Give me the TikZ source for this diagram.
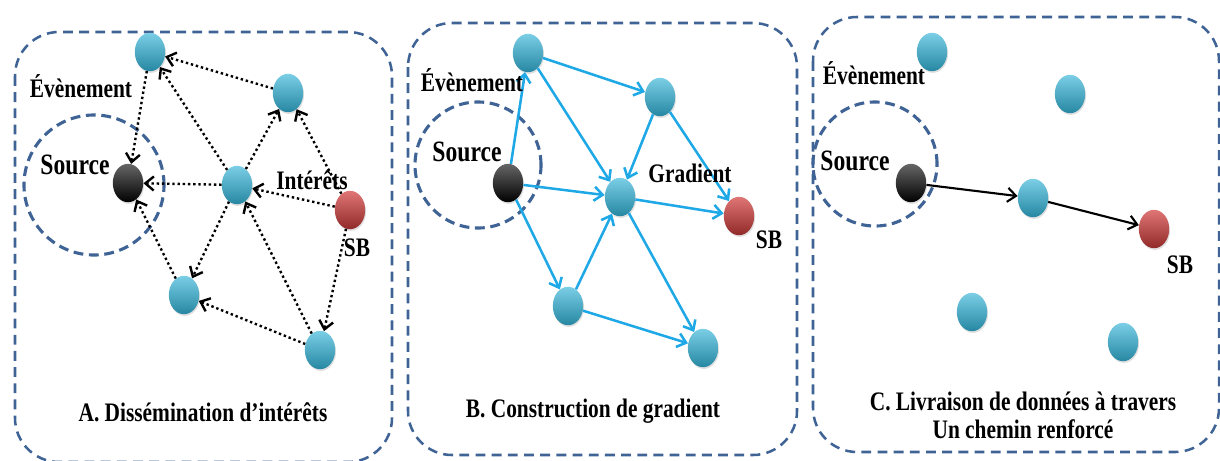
\documentclass[tikz,border=0pt]{standalone}
\usepackage{fontspec}
\setmainfont{Liberation Serif}[FakeStretch=0.8]
\usepackage{xcolor}
\usetikzlibrary{shapes.geometric,arrows.meta,positioning,shadows}

\definecolor{frameblue}{HTML}{3F6394}
\definecolor{nodecyan}{HTML}{33B4D8}
\definecolor{sinkred}{HTML}{D23B3B}
\definecolor{gradblue}{HTML}{1EA8E6}

\tikzset{
  ball/.style={ellipse,minimum width=7.6mm,minimum height=9.6mm,inner sep=0pt,
    top color=nodecyan!65!white,middle color=nodecyan,bottom color=nodecyan!75!black,
    drop shadow={opacity=0.25,shadow xshift=0.6pt,shadow yshift=-1.2pt}},
  srcball/.style={ball,top color=black!60,middle color=black,bottom color=black},
  sinkball/.style={ball,top color=sinkred!70!white,middle color=sinkred,bottom color=sinkred!70!black},
  frame/.style={draw=frameblue,line width=1.8pt,dash pattern=on 7pt off 4.5pt,rounded corners=1.1cm},
  zone/.style={draw=frameblue,line width=2.2pt,dash pattern=on 7pt off 4pt},
  lbl/.style={font=\fontsize{19}{21}\selectfont\bfseries,inner sep=0pt},
  srclbl/.style={font=\fontsize{21}{23}\selectfont\bfseries,inner sep=0pt},
  interest/.style={->,black,line width=1.7pt,dotted},
  grad/.style={->,gradblue,line width=1.8pt},
  reinf/.style={->,black,line width=1.5pt},
}

\begin{document}
\begin{tikzpicture}[x=0.025cm,y=-0.025cm,>={Straight Barb[length=6pt,width=10pt]}]
  \useasboundingbox (0,0) rectangle (1220,460);

  % A. dissemination
  \draw[frame] (15,32) rectangle (392,462);
  \draw[zone] (94,185) circle[radius=1.75cm];
  \node[srcball]  (aSrc) at (128,183) {};
  \node[ball]     (aTop) at (150,52) {};
  \node[ball]     (aUR)  at (288,93) {};
  \node[ball]     (aC)   at (237,185) {};
  \node[sinkball] (aSB)  at (350,210) {};
  \node[ball]     (aLL)  at (184,295) {};
  \node[ball]     (aBR)  at (320,350) {};
  \draw[interest] (aTop) -- (aSrc);
  \draw[interest] (aC) -- (aTop);
  \draw[interest] (aUR) -- (aTop);
  \draw[interest] (aC) -- (aUR);
  \draw[interest] (aSB) -- (aUR);
  \draw[interest] (aC) -- (aSrc);
  \draw[interest] (aSB) -- (aC);
  \draw[interest] (aC) -- (aLL);
  \draw[interest] (aLL) -- (aSrc);
  \draw[interest] (aBR) -- (aC);
  \draw[interest] (aBR) -- (aLL);
  \draw[interest] (aSB) -- (aBR);
  \node[lbl]    (aEv)  at (81,86) {Évènement};
  \node[srclbl] (aSrcL) at (75,165) {Source};
  \node[lbl]    (aInt) at (312,180) {Intérêts};
  \node[lbl]    (aSBL) at (357,248) {SB};
  \node[lbl]    (aTitle) at (203,412) {A. Dissémination d’intérêts};

  % B. gradient
  \draw[frame] (408,23) rectangle (797,455);
  \draw[zone] (478,165) circle[radius=1.575cm];
  \node[srcball]  (bSrc) at (508,183) {};
  \node[ball]     (bTop) at (528,53) {};
  \node[ball]     (bUR)  at (660,97) {};
  \node[ball]     (bC)   at (620,197) {};
  \node[sinkball] (bSB)  at (739,216) {};
  \node[ball]     (bLL)  at (568,306) {};
  \node[ball]     (bBR)  at (703,348) {};
  \draw[grad] (bSrc) -- (bTop);
  \draw[grad] (bTop) -- (bUR);
  \draw[grad] (bTop) -- (bC);
  \draw[grad] (bSrc) -- (bC);
  \draw[grad] (bUR) -- (bC);
  \draw[grad] (bUR) -- (bSB);
  \draw[grad] (bC) -- (bSB);
  \draw[grad] (bSrc) -- (bLL);
  \draw[grad] (bLL) -- (bC);
  \draw[grad] (bC) -- (bBR);
  \draw[grad] (bLL) -- (bBR);
  \node[lbl]    (bEv)  at (472,80) {Évènement};
  \node[srclbl] (bSrcL) at (467,152) {Source};
  \node[lbl]    (bGrad) at (690,173) {Gradient};
  \node[lbl]    (bSBL) at (769,240) {SB};
  \node[lbl]    (bTitle) at (593,411) {B. Construction de gradient};

  % C. reinforced path
  \draw[frame] (813,17) rectangle (1219,452);
  \draw[zone] (875,164) circle[radius=1.55cm];
  \node[srcball]  (cSrc) at (911,183) {};
  \node[ball]     (cTop) at (932,52) {};
  \node[ball]     (cUR)  at (1070,94) {};
  \node[ball]     (cC)   at (1033,198) {};
  \node[sinkball] (cSB)  at (1154,229) {};
  \node[ball]     (cLL)  at (972,312) {};
  \node[ball]     (cBR)  at (1123,342) {};
  \draw[reinf] (cSrc) -- (cC);
  \draw[reinf] (cC) -- (cSB);
  \node[lbl]    (cEv)  at (874,73) {Évènement};
  \node[srclbl] (cSrcL) at (855,161) {Source};
  \node[lbl]    (cSBL) at (1180,265) {SB};
  \node[lbl,align=center] (cTitle) at (1023,415)
    {C. Livraison de données à travers\\[-1pt]Un chemin renforcé};
\end{tikzpicture}
\end{document}
